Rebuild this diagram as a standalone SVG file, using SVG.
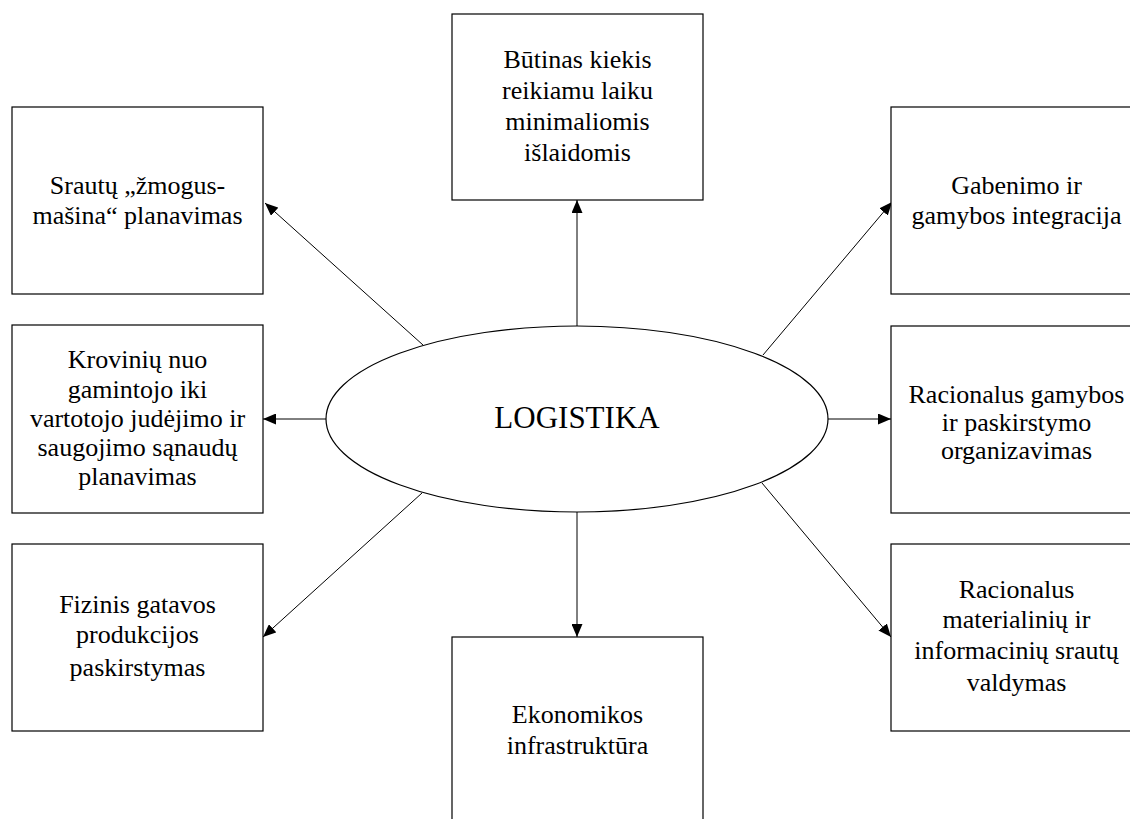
<svg xmlns="http://www.w3.org/2000/svg" width="1130" height="819" viewBox="0 0 1130 819">
  <style>
    .box { fill: #ffffff; stroke: #000000; stroke-width: 1.2; }
    .hub { fill: #ffffff; stroke: #000000; stroke-width: 1.2; }
    .lbl { font-family: "Liberation Serif", "Times New Roman", serif; font-size: 26px; fill: #000000; text-anchor: middle; }
    .hubtxt { font-family: "Liberation Serif", "Times New Roman", serif; font-size: 31px; fill: #000000; text-anchor: middle; }
    .link { stroke: #000000; stroke-width: 1; fill: none; marker-end: url(#head); }
  </style>
  <defs>
    <marker id="head" viewBox="0 0 13 11" refX="13" refY="5.5" markerWidth="13" markerHeight="11" markerUnits="userSpaceOnUse" orient="auto">
      <path d="M0,0 L13,5.5 L0,11 Z" fill="#000000"/>
    </marker>
  </defs>
  <rect width="1130" height="819" fill="#ffffff"/>

  <!-- connectors from the central ellipse to each box -->
  <g id="connectors">
    <line class="link" x1="577" y1="326" x2="577" y2="200"/>
    <line class="link" x1="577" y1="512" x2="577" y2="637"/>
    <line class="link" x1="326" y1="419" x2="263" y2="419"/>
    <line class="link" x1="828" y1="419" x2="891" y2="419"/>
    <line class="link" x1="423" y1="345" x2="265" y2="203"/>
    <line class="link" x1="422" y1="493" x2="263" y2="637"/>
    <line class="link" x1="763" y1="355" x2="892" y2="202"/>
    <line class="link" x1="762" y1="483" x2="891" y2="637"/>
  </g>

  <g id="hub">
    <ellipse class="hub" cx="577" cy="419" rx="251" ry="93"/>
    <text class="hubtxt" x="577" y="428">LOGISTIKA</text>
  </g>

  <g id="node-top">
    <rect class="box" x="452" y="14" width="251" height="186"/>
    <text class="lbl" x="577.5" y="68">Būtinas kiekis</text>
    <text class="lbl" x="577.5" y="99">reikiamu laiku</text>
    <text class="lbl" x="577.5" y="130">minimaliomis</text>
    <text class="lbl" x="577.5" y="161">išlaidomis</text>
  </g>

  <g id="node-left-top">
    <rect class="box" x="12" y="107" width="251" height="187"/>
    <text class="lbl" x="137.5" y="194">Srautų „žmogus-</text>
    <text class="lbl" x="137.5" y="224">mašina“ planavimas</text>
  </g>

  <g id="node-right-top">
    <rect class="box" x="891" y="107" width="251" height="187"/>
    <text class="lbl" x="1016.5" y="194">Gabenimo ir</text>
    <text class="lbl" x="1016.5" y="224">gamybos integracija</text>
  </g>

  <g id="node-left-mid">
    <rect class="box" x="12" y="325" width="251" height="188"/>
    <text class="lbl" x="137.5" y="368">Krovinių nuo</text>
    <text class="lbl" x="137.5" y="398">gamintojo iki</text>
    <text class="lbl" x="137.5" y="427">vartotojo judėjimo ir</text>
    <text class="lbl" x="137.5" y="456">saugojimo sąnaudų</text>
    <text class="lbl" x="137.5" y="485">planavimas</text>
  </g>

  <g id="node-right-mid">
    <rect class="box" x="891" y="326" width="251" height="187"/>
    <text class="lbl" x="1016.5" y="403">Racionalus gamybos</text>
    <text class="lbl" x="1016.5" y="431">ir paskirstymo</text>
    <text class="lbl" x="1016.5" y="459">organizavimas</text>
  </g>

  <g id="node-left-bottom">
    <rect class="box" x="12" y="544" width="251" height="187"/>
    <text class="lbl" x="137.5" y="613">Fizinis gatavos</text>
    <text class="lbl" x="137.5" y="643">produkcijos</text>
    <text class="lbl" x="137.5" y="676">paskirstymas</text>
  </g>

  <g id="node-bottom">
    <rect class="box" x="452" y="637" width="251" height="187"/>
    <text class="lbl" x="577.5" y="723">Ekonomikos</text>
    <text class="lbl" x="577.5" y="754">infrastruktūra</text>
  </g>

  <g id="node-right-bottom">
    <rect class="box" x="891" y="544" width="251" height="187"/>
    <text class="lbl" x="1016.5" y="598">Racionalus</text>
    <text class="lbl" x="1016.5" y="628">materialinių ir</text>
    <text class="lbl" x="1016.5" y="659">informacinių srautų</text>
    <text class="lbl" x="1016.5" y="691">valdymas</text>
  </g>
</svg>
